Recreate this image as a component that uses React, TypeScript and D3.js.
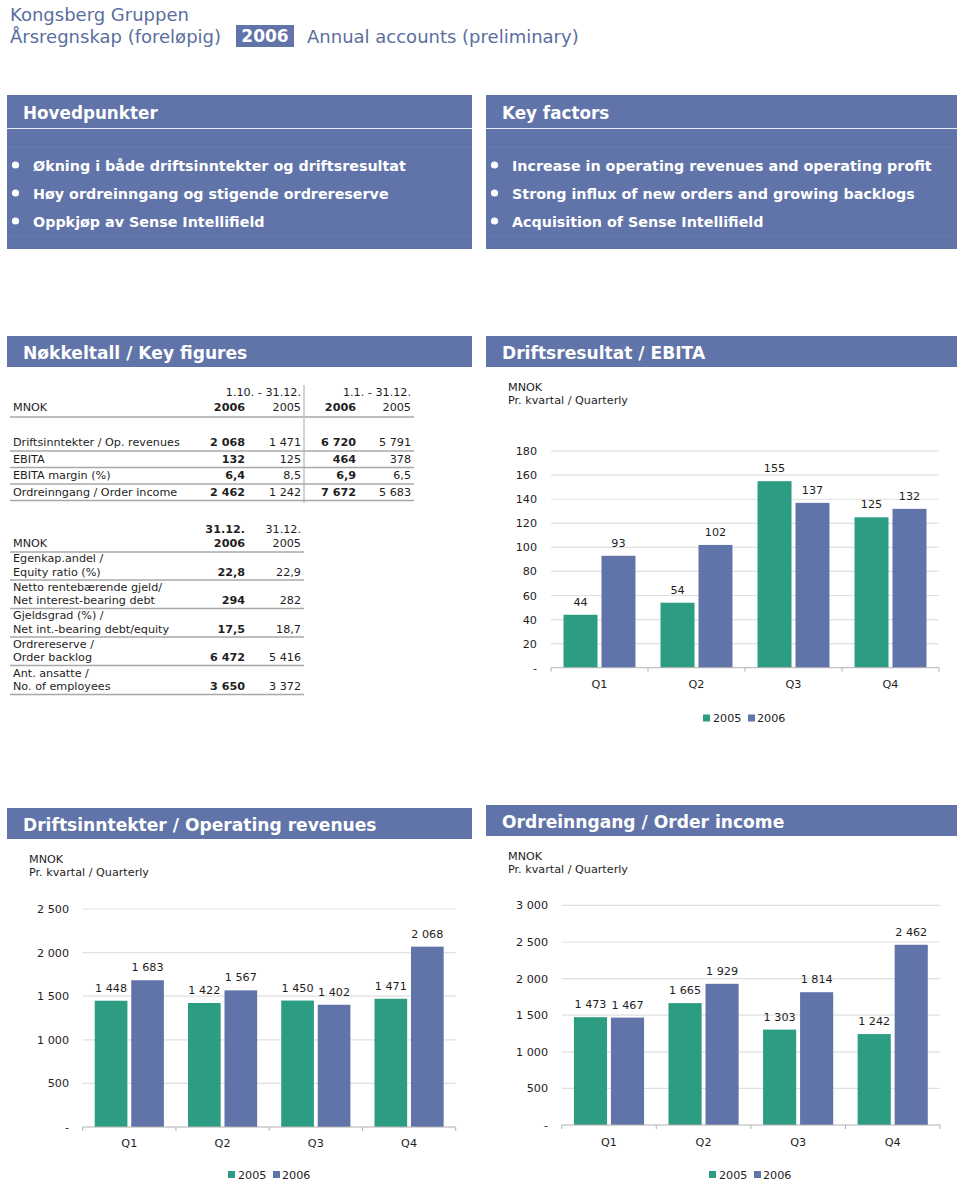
import React from 'react';
import * as d3 from 'd3';

const quarters = ['Q1', 'Q2', 'Q3', 'Q4'];
const years = ['2005', '2006'];

const ebita2005 = [44, 54, 155, 125];
const ebita2006 = [93, 102, 137, 132];
const revenue2005 = [1448, 1422, 1450, 1471];
const revenue2006 = [1683, 1567, 1402, 2068];
const orders2005 = [1473, 1665, 1303, 1242];
const orders2006 = [1467, 1929, 1814, 2462];

const ebitaTicks = [0, 20, 40, 60, 80, 100, 120, 140, 160, 180];
const revenueTicks = [0, 500, 1000, 1500, 2000, 2500];
const orderTicks = [0, 500, 1000, 1500, 2000, 2500, 3000];

const hovedpunkter = [
  'Økning i både driftsinntekter og driftsresultat',
  'Høy ordreinngang og stigende ordrereserve',
  'Oppkjøp av Sense Intellifield',
];
const keyFactors = [
  'Increase in operating revenues and operating profit',
  'Strong influx of new orders and growing backlogs',
  'Acquisition of Sense Intellifield',
];

const keyFigureLabels = ['Driftsinntekter / Op. revenues', 'EBITA', 'EBITA margin (%)', 'Ordreinngang / Order income'];
const keyFigQ2006 = ['2 068', '132', '6,4', '2 462'];
const keyFigQ2005 = ['1 471', '125', '8,5', '1 242'];
const keyFigY2006 = ['6 720', '464', '6,9', '7 672'];
const keyFigY2005 = ['5 791', '378', '6,5', '5 683'];

const balanceLabels1 = ['Egenkap.andel /', 'Netto rentebærende gjeld/', 'Gjeldsgrad (%) /', 'Ordrereserve /', 'Ant. ansatte /'];
const balanceLabels2 = ['Equity ratio (%)', 'Net interest-bearing debt', 'Net int.-bearing debt/equity', 'Order backlog', 'No. of employees'];
const balance2006 = ['22,8', '294', '17,5', '6 472', '3 650'];
const balance2005 = ['22,9', '282', '18,7', '5 416', '3 372'];

const BLUE = '#6074a9';
const GREEN = '#2c9c82';
const TITLE = '#5b6e9e';
const FONT = '"DejaVu Sans", Verdana, sans-serif';
const TXT = '#1e1e1e';
const FS = 11.2;
const HFS = 17.1;

const locale = d3.formatLocale({ decimal: ',', thousands: '\u00a0', grouping: [3], currency: ['', ''] });
const fmt = locale.format(',');
const fmtVal = (v: number) => fmt(v).replace(/\u00a0/g, ' ');
const fmtTick = (v: number) => (v === 0 ? '-' : fmtVal(v));

type ChartProps = {
  x0: number; x1: number; yZero: number; yTop: number; maxVal: number;
  ticks: number[]; tickX: number; qBaseline: number; legendBaseline: number; legendX: number;
  s2005: number[]; s2006: number[];
};

function BarChart(p: ChartProps) {
  const x = d3.scaleBand<string>().domain(quarters).range([p.x0, p.x1]);
  const xi = d3.scaleBand<string>().domain(years).range([0, x.bandwidth()]).paddingInner(0.105).paddingOuter(0.33);
  const y = d3.scaleLinear().domain([0, p.maxVal]).range([p.yZero, p.yTop]);
  const series = [
    { year: '2005', values: p.s2005, color: GREEN },
    { year: '2006', values: p.s2006, color: BLUE },
  ];
  const bounds = [...quarters.map((q) => x(q) as number), p.x1];
  return (
    <g fontFamily={FONT} fontSize={FS} fill={TXT}>
      {p.ticks.map((t) => (
        <g key={t}>
          {t > 0 && <line x1={p.x0} x2={p.x1} y1={y(t)} y2={y(t)} stroke="#e0e0e0" strokeWidth={1.2} />}
          <text x={p.tickX} y={y(t) + 4} textAnchor="end">{fmtTick(t)}</text>
        </g>
      ))}
      {series.map((s) =>
        quarters.map((q, i) => {
          const bx = (x(q) as number) + (xi(s.year) as number);
          const by = y(s.values[i]);
          return (
            <g key={s.year + q}>
              <rect x={bx} y={by} width={xi.bandwidth()} height={p.yZero - by} fill={s.color} />
              <text x={bx + xi.bandwidth() / 2} y={by - 9} textAnchor="middle">{fmtVal(s.values[i])}</text>
            </g>
          );
        })
      )}
      <line x1={p.x0} x2={p.x1} y1={p.yZero} y2={p.yZero} stroke="#b0b0b0" strokeWidth={1} />
      {bounds.map((b, i) => (
        <line key={i} x1={b} x2={b} y1={p.yZero} y2={p.yZero + 4} stroke="#b0b0b0" strokeWidth={1} />
      ))}
      {quarters.map((q) => (
        <text key={q} x={(x(q) as number) + x.bandwidth() / 2} y={p.qBaseline} textAnchor="middle">{q}</text>
      ))}
      <rect x={p.legendX} y={p.legendBaseline - 7.5} width={7} height={7} fill={GREEN} />
      <text x={p.legendX + 10} y={p.legendBaseline}>2005</text>
      <rect x={p.legendX + 45} y={p.legendBaseline - 7.5} width={7} height={7} fill={BLUE} />
      <text x={p.legendX + 54} y={p.legendBaseline}>2006</text>
    </g>
  );
}

function Header({ x, y, w, h, text, ty }: { x: number; y: number; w: number; h: number; text: string; ty: number }) {
  return (
    <g>
      <rect x={x} y={y} width={w} height={h} fill={BLUE} />
      <text x={x + 16} y={ty} fill="#fff" fontFamily={FONT} fontWeight="bold" fontSize={HFS}>{text}</text>
    </g>
  );
}

function BulletBox({ x, w, title, items }: { x: number; w: number; title: string; items: string[] }) {
  const baselines = [171, 199, 227];
  return (
    <g fontFamily={FONT} fill="#fff" fontWeight="bold">
      <rect x={x} y={95} width={w} height={154} fill={BLUE} />
      <line x1={x} x2={x + w} y1={128.5} y2={128.5} stroke="#e8ecf5" strokeWidth={1.2} />
      <line x1={x} x2={x + w} y1={147} y2={147} stroke="#6a7db0" strokeWidth={1} />
      <line x1={x} x2={x + w} y1={236} y2={236} stroke="#6a7db0" strokeWidth={1} />
      <text x={x + 16} y={119} fontSize={HFS - 0.3}>{title}</text>
      {items.map((t, i) => (
        <g key={t}>
          <circle cx={x + 8.5} cy={baselines[i] - 6} r={3.6} fill="#fff" />
          <text x={x + 26} y={baselines[i]} fontSize={14.3}>{t}</text>
        </g>
      ))}
    </g>
  );
}

function SubTitle({ x, y }: { x: number; y: number }) {
  return (
    <g fontFamily={FONT} fontSize={FS} fill={TXT}>
      <text x={x} y={y}>MNOK</text>
      <text x={x} y={y + 13}>Pr. kvartal / Quarterly</text>
    </g>
  );
}

function KeyTable() {
  const rowBase = [446, 462.5, 479, 495.5];
  const lineY = [451, 467.5, 484, 500.5];
  return (
    <g fontFamily={FONT} fontSize={FS} fill={TXT}>
      <text x={301} y={396} textAnchor="end">1.10. - 31.12.</text>
      <text x={411} y={396} textAnchor="end">1.1. - 31.12.</text>
      <text x={13} y={411}>MNOK</text>
      <text x={245} y={411} textAnchor="end" fontWeight="bold">2006</text>
      <text x={301} y={411} textAnchor="end">2005</text>
      <text x={356} y={411} textAnchor="end" fontWeight="bold">2006</text>
      <text x={411} y={411} textAnchor="end">2005</text>
      <line x1={10} x2={414} y1={417} y2={417} stroke="#a8a8a8" strokeWidth={1.4} />
      <line x1={304} x2={304} y1={385} y2={503} stroke="#c0c0c0" strokeWidth={1.4} />
      {keyFigureLabels.map((l, i) => (
        <g key={l}>
          <text x={13} y={rowBase[i]}>{l}</text>
          <text x={245} y={rowBase[i]} textAnchor="end" fontWeight="bold">{keyFigQ2006[i]}</text>
          <text x={301} y={rowBase[i]} textAnchor="end">{keyFigQ2005[i]}</text>
          <text x={356} y={rowBase[i]} textAnchor="end" fontWeight="bold">{keyFigY2006[i]}</text>
          <text x={411} y={rowBase[i]} textAnchor="end">{keyFigY2005[i]}</text>
          <line x1={10} x2={414} y1={lineY[i]} y2={lineY[i]} stroke="#a8a8a8" strokeWidth={1.4} />
        </g>
      ))}
    </g>
  );
}

function BalanceTable() {
  const first = [562, 590.5, 619, 647.5, 676.5];
  return (
    <g fontFamily={FONT} fontSize={FS} fill={TXT}>
      <text x={245} y={533} textAnchor="end" fontWeight="bold">31.12.</text>
      <text x={301} y={533} textAnchor="end">31.12.</text>
      <text x={13} y={547}>MNOK</text>
      <text x={245} y={547} textAnchor="end" fontWeight="bold">2006</text>
      <text x={301} y={547} textAnchor="end">2005</text>
      <line x1={10} x2={304} y1={552} y2={552} stroke="#a8a8a8" strokeWidth={1.4} />
      {balanceLabels1.map((l, i) => (
        <g key={l}>
          <text x={13} y={first[i]}>{l}</text>
          <text x={13} y={first[i] + 13.5}>{balanceLabels2[i]}</text>
          <text x={245} y={first[i] + 13.5} textAnchor="end" fontWeight="bold">{balance2006[i]}</text>
          <text x={301} y={first[i] + 13.5} textAnchor="end">{balance2005[i]}</text>
          <line x1={10} x2={304} y1={first[i] + 18} y2={first[i] + 18} stroke="#a8a8a8" strokeWidth={1.4} />
        </g>
      ))}
    </g>
  );
}

export default function App() {
  return (
    <svg width={960} height={1181} style={{ position: 'absolute', left: 0, top: 0, background: '#fff' }}>
      <rect x={0} y={0} width={960} height={1181} fill="#fff" />
      <g fontFamily={FONT} fontSize={18} fill={TITLE}>
        <text x={10} y={21}>Kongsberg Gruppen</text>
        <text x={10} y={43}>Årsregnskap (foreløpig)</text>
        <rect x={236} y={25} width={58} height={22} fill={BLUE} />
        <text x={265} y={42} textAnchor="middle" fill="#fff" fontWeight="bold" fontSize={17}>2006</text>
        <text x={307} y={43}>Annual accounts (preliminary)</text>
      </g>

      <BulletBox x={7} w={465} title="Hovedpunkter" items={hovedpunkter} />
      <BulletBox x={486} w={471} title="Key factors" items={keyFactors} />

      <Header x={7} y={336} w={465} h={31} text="Nøkkeltall / Key figures" ty={359} />
      <Header x={486} y={336} w={471} h={31} text="Driftsresultat / EBITA" ty={359} />
      <KeyTable />
      <BalanceTable />

      <SubTitle x={508} y={391} />
      <BarChart x0={551} x1={939} yZero={667.7} yTop={451.1} maxVal={180} ticks={ebitaTicks} tickX={537}
        qBaseline={688} legendBaseline={722} legendX={703} s2005={ebita2005} s2006={ebita2006} />

      <Header x={7} y={808} w={465} h={31} text="Driftsinntekter / Operating revenues" ty={831} />
      <SubTitle x={29} y={863} />
      <BarChart x0={82.7} x1={455.7} yZero={1127} yTop={909} maxVal={2500} ticks={revenueTicks} tickX={69}
        qBaseline={1147} legendBaseline={1178.5} legendX={228} s2005={revenue2005} s2006={revenue2006} />

      <Header x={486} y={805} w={471} h={31} text="Ordreinngang / Order income" ty={828} />
      <SubTitle x={508} y={860} />
      <BarChart x0={561.7} x1={940} yZero={1125} yTop={905.4} maxVal={3000} ticks={orderTicks} tickX={548}
        qBaseline={1146} legendBaseline={1178.5} legendX={709} s2005={orders2005} s2006={orders2006} />
    </svg>
  );
}
